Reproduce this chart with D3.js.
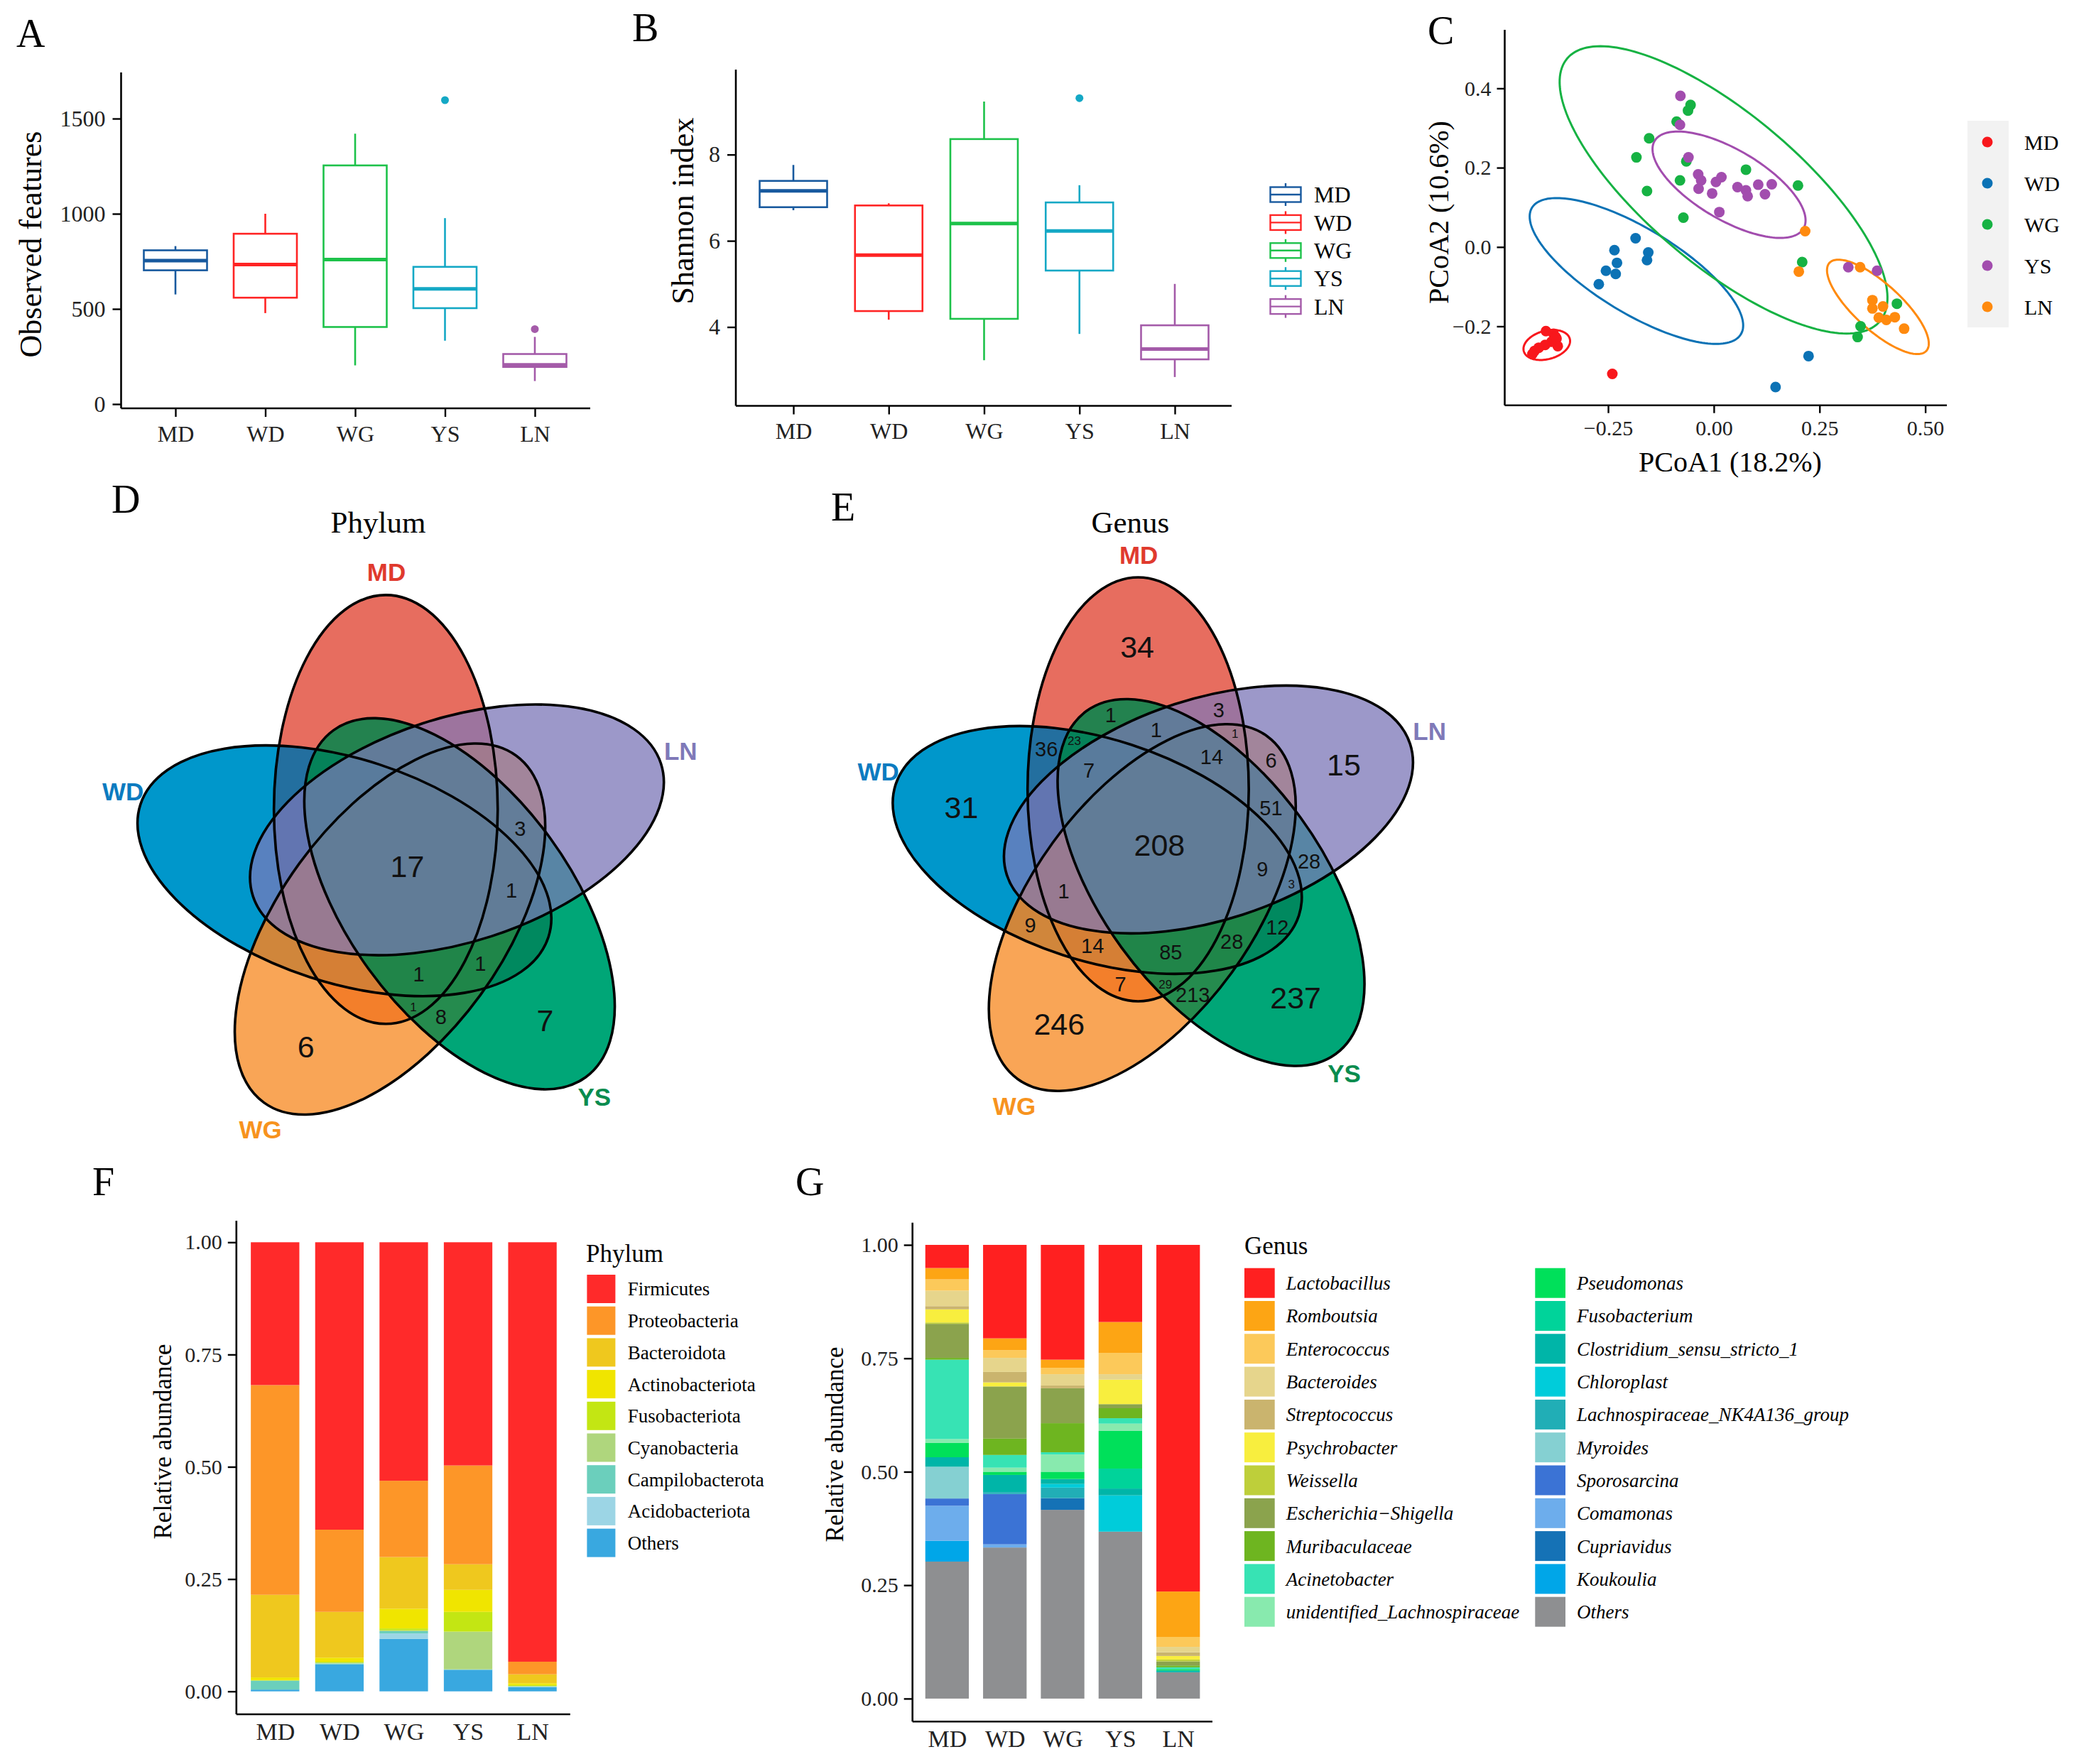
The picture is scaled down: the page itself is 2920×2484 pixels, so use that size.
<!DOCTYPE html>
<html>
<head>
<meta charset="utf-8">
<title>Gut microbiota diversity</title>
<style>
  body { margin: 0; padding: 0; background: #fff; }
  svg { display: block; }
</style>
<script src="https://cdn.jsdelivr.net/npm/d3@7/dist/d3.min.js"></script>
</head>
<body>
<svg></svg>
<script>
const groups = ['MD', 'WD', 'WG', 'YS', 'LN'];

// A - observed features: [lower whisker, Q1, median, Q3, upper whisker]
const featureStats = [
  [576, 703, 754, 808, 830],
  [478, 559, 733, 895, 1000],
  [203, 405, 759, 1254, 1421],
  [333, 504, 605, 721, 977],
  [121, 195, 206, 263, 353]
];
const featureOutliers = [[], [], [], [1597], [394]];
const featureTicks = [0, 500, 1000, 1500];

// B - Shannon index
const shannonStats = [
  [6.71, 6.78, 7.16, 7.39, 7.76],
  [4.17, 4.37, 5.67, 6.82, 6.87],
  [3.23, 4.19, 6.40, 8.36, 9.23],
  [3.84, 5.31, 6.23, 6.89, 7.29],
  [2.84, 3.25, 3.49, 4.04, 5.00]
];
const shannonOutliers = [[], [], [], [9.31], []];
const shannonTicks = [4, 6, 8];
const boxColors = ['#17599E', '#FF2424', '#1DC24A', '#14A8C5', '#A45BA9'];

// C - PCoA scores (PCoA1, PCoA2)
const pcoaMD = [[-0.397, -0.212], [-0.379, -0.219], [-0.372, -0.231], [-0.369, -0.250], [-0.384, -0.239],
  [-0.399, -0.247], [-0.414, -0.254], [-0.424, -0.262], [-0.429, -0.270], [-0.374, -0.227], [-0.240, -0.320]];
const pcoaWD = [[-0.185, 0.022], [-0.235, -0.008], [-0.155, -0.014], [-0.158, -0.033], [-0.229, -0.040],
  [-0.255, -0.060], [-0.232, -0.068], [-0.272, -0.094], [0.224, -0.275], [0.146, -0.353]];
const pcoaWG = [[-0.055, 0.358], [-0.061, 0.344], [-0.088, 0.316], [-0.153, 0.274], [-0.183, 0.226],
  [-0.065, 0.216], [-0.080, 0.168], [-0.158, 0.141], [-0.072, 0.074], [0.076, 0.195], [0.199, 0.155],
  [0.209, -0.038], [0.433, -0.143], [0.347, -0.200], [0.340, -0.227]];
const pcoaYS = [[-0.079, 0.381], [-0.080, 0.308], [-0.060, 0.226], [-0.037, 0.183], [-0.030, 0.168],
  [0.018, 0.176], [0.005, 0.164], [-0.036, 0.147], [-0.004, 0.135], [0.056, 0.151], [0.076, 0.143],
  [0.080, 0.128], [0.105, 0.157], [0.121, 0.133], [0.137, 0.158], [0.013, 0.088], [0.318, -0.051], [0.386, -0.060]];
const pcoaLN = [[0.216, 0.040], [0.201, -0.062], [0.346, -0.051], [0.375, -0.134], [0.375, -0.155],
  [0.400, -0.150], [0.390, -0.178], [0.408, -0.184], [0.428, -0.177], [0.450, -0.206]];
// confidence ellipses: centre, end of major axis, end of minor axis (data units)
const pcoaEllipses = [
  [-0.395, -0.247, -0.3406, -0.2314, -0.4037, -0.2124],
  [-0.183, -0.0605, 0.064, -0.220, -0.131, 0.031],
  [0.023, 0.144, 0.393, -0.187, 0.1385, 0.291],
  [0.036, 0.157, 0.212, 0.0465, 0.078, 0.233],
  [0.388, -0.151, 0.5025, -0.262, 0.425, -0.108]
];
const pcoaXTicks = [-0.25, 0, 0.25, 0.5];
const pcoaYTicks = [-0.2, 0, 0.2, 0.4];
const pcoaColors = ['#F8171C', '#0B72B5', '#16B243', '#A24DAE', '#FF8A0E'];

// D, E - Venn region counts
const vennOrder = ['MD', 'LN', 'YS', 'WG', 'WD']; // clockwise from the top
const phylumVenn = [
  { sets: ['MD', 'LN', 'YS', 'WG', 'WD'], n: 17 },
  { sets: ['WG'], n: 6 },
  { sets: ['YS'], n: 7 },
  { sets: ['LN', 'YS', 'WG'], n: 3 },
  { sets: ['LN', 'YS', 'WG', 'WD'], n: 1 },
  { sets: ['MD', 'YS', 'WG', 'WD'], n: 1 },
  { sets: ['YS', 'WG', 'WD'], n: 1 },
  { sets: ['MD', 'YS', 'WG'], n: 1 },
  { sets: ['YS', 'WG'], n: 8 }
];
const genusVenn = [
  { sets: ['MD', 'LN', 'YS', 'WG', 'WD'], n: 208 },
  { sets: ['MD'], n: 34 }, { sets: ['LN'], n: 15 }, { sets: ['YS'], n: 237 },
  { sets: ['WG'], n: 246 }, { sets: ['WD'], n: 31 },
  { sets: ['MD', 'LN'], n: 3 }, { sets: ['LN', 'YS'], n: 28 }, { sets: ['YS', 'WG'], n: 213 },
  { sets: ['WG', 'WD'], n: 9 }, { sets: ['WD', 'MD'], n: 36 },
  { sets: ['MD', 'YS'], n: 1 }, { sets: ['LN', 'WG'], n: 6 }, { sets: ['YS', 'WD'], n: 12 },
  { sets: ['WG', 'MD'], n: 7 },
  { sets: ['MD', 'LN', 'YS'], n: 1 }, { sets: ['LN', 'YS', 'WG'], n: 51 },
  { sets: ['YS', 'WG', 'WD'], n: 28 }, { sets: ['WG', 'WD', 'MD'], n: 14 },
  { sets: ['MD', 'LN', 'WG'], n: 1 }, { sets: ['LN', 'YS', 'WD'], n: 3 },
  { sets: ['YS', 'WG', 'MD'], n: 29 }, { sets: ['WD', 'MD', 'YS'], n: 23 },
  { sets: ['MD', 'LN', 'YS', 'WG'], n: 14 }, { sets: ['LN', 'YS', 'WG', 'WD'], n: 9 },
  { sets: ['YS', 'WG', 'WD', 'MD'], n: 85 }, { sets: ['WG', 'WD', 'MD', 'LN'], n: 1 },
  { sets: ['WD', 'MD', 'LN', 'YS'], n: 7 }
];
// fill where a set is alone, and the tint it lays over sets drawn before it
const vennFill = { MD: '#E76D5F', LN: '#9C98C9', YS: '#00A677', WG: '#F9A556', WD: '#0097CB' };
const vennOverlap = { LN: '#7D78B9', YS: '#00864C', WG: '#F48322', WD: '#0070AA' };
const vennAlpha = { LN: 0.7, YS: 0.85, WG: 0.85, WD: 0.85 };
const vennText = { MD: '#E03A2E', LN: '#7F79B8', YS: '#0A8C4F', WG: '#F7931E', WD: '#0C7BC0' };

// F - phylum relative abundance
const phyla = ['Firmicutes', 'Proteobacteria', 'Bacteroidota', 'Actinobacteriota', 'Fusobacteriota',
  'Cyanobacteria', 'Campilobacterota', 'Acidobacteriota', 'Others'];
const phylumMD = [0.318, 0.467, 0.184, 0.006, 0.001, 0.000, 0.020, 0.000, 0.004];
const phylumWD = [0.640, 0.183, 0.102, 0.009, 0.002, 0.002, 0.002, 0.000, 0.060];
const phylumWG = [0.531, 0.170, 0.115, 0.044, 0.004, 0.002, 0.005, 0.012, 0.117];
const phylumYS = [0.497, 0.220, 0.057, 0.049, 0.044, 0.084, 0.001, 0.000, 0.048];
const phylumLN = [0.934, 0.028, 0.020, 0.004, 0.002, 0.001, 0.001, 0.001, 0.009];
const phylumColors = ['#FF2A2A', '#FD9628', '#EFC81E', '#F0E500', '#C3E613', '#AFD67D', '#6BCFBC', '#9CD5E5', '#39A8E0'];

// G - genus relative abundance
const genera = ['Lactobacillus', 'Romboutsia', 'Enterococcus', 'Bacteroides', 'Streptococcus', 'Psychrobacter',
  'Weissella', 'Escherichia\u2212Shigella', 'Muribaculaceae', 'Acinetobacter', 'unidentified_Lachnospiraceae',
  'Pseudomonas', 'Fusobacterium', 'Clostridium_sensu_stricto_1', 'Chloroplast', 'Lachnospiraceae_NK4A136_group',
  'Myroides', 'Sporosarcina', 'Comamonas', 'Cupriavidus', 'Koukoulia', 'Others'];
const genusMD = [0.051, 0.025, 0.025, 0.034, 0.007, 0.029, 0.003, 0.075, 0.004, 0.175, 0.008, 0.032, 0.000, 0.021, 0.000, 0.000, 0.070, 0.016, 0.077, 0.000, 0.046, 0.302];
const genusWD = [0.206, 0.026, 0.017, 0.031, 0.023, 0.009, 0.000, 0.115, 0.036, 0.028, 0.009, 0.007, 0.000, 0.038, 0.000, 0.004, 0.000, 0.111, 0.007, 0.000, 0.000, 0.333];
const genusWG = [0.253, 0.018, 0.014, 0.025, 0.006, 0.000, 0.000, 0.077, 0.064, 0.005, 0.038, 0.016, 0.000, 0.011, 0.008, 0.023, 0.000, 0.000, 0.000, 0.026, 0.000, 0.416];
const genusYS = [0.170, 0.068, 0.047, 0.012, 0.000, 0.054, 0.000, 0.009, 0.022, 0.012, 0.016, 0.083, 0.044, 0.015, 0.080, 0.000, 0.000, 0.000, 0.000, 0.000, 0.000, 0.368];
const genusLN = [0.764, 0.100, 0.022, 0.012, 0.008, 0.008, 0.004, 0.009, 0.004, 0.004, 0.000, 0.003, 0.000, 0.004, 0.000, 0.000, 0.000, 0.000, 0.000, 0.000, 0.000, 0.058];
const genusColors = ['#FF2020', '#FDA514', '#FCC95A', '#E6D58C', '#CAB46E', '#F8EE3E', '#BECF3A', '#8BA34D',
  '#6EB520', '#37E3B4', '#88EAAE', '#00E05A', '#00D39A', '#00B5A8', '#00CCDA', '#21AEB6', '#85D0D2',
  '#3B73D5', '#6DADEC', '#1572B6', '#00A6E8', '#8E8F91'];
const abundanceTicks = [0, 0.25, 0.5, 0.75, 1];

// ---------------------------------------------------------------------------
const serif = '"Liberation Serif", "Times New Roman", serif';
const sans = '"Liberation Sans", Arial, sans-serif';
const W = 2920, H = 2484;
const svg = d3.select('svg').attr('width', W).attr('height', H);
svg.append('rect').attr('width', W).attr('height', H).attr('fill', '#fff');
const defs = svg.append('defs');

function panelLetter(x, y, t) {
  svg.append('text').attr('x', x).attr('y', y).attr('font-family', serif)
    .attr('font-size', 56).text(t);
}

function axisLines(g, x0, x1, yTop, yBottom) {
  g.append('line').attr('x1', x0).attr('x2', x0).attr('y1', yTop).attr('y2', yBottom)
    .attr('stroke', '#000').attr('stroke-width', 2.6);
  g.append('line').attr('x1', x0).attr('x2', x1).attr('y1', yBottom).attr('y2', yBottom)
    .attr('stroke', '#000').attr('stroke-width', 2.6);
}

function styleAxis(sel, size) {
  sel.attr('font-family', serif).attr('font-size', size);
  sel.select('.domain').remove();
  sel.selectAll('.tick line').attr('stroke', '#000').attr('stroke-width', 2.4);
  sel.selectAll('.tick text').attr('fill', '#222');
}

function yTitle(x, y, t, size) {
  svg.append('text').attr('transform', `translate(${x},${y}) rotate(-90)`)
    .attr('text-anchor', 'middle').attr('dy', '0.35em')
    .attr('font-family', serif).attr('font-size', size).text(t);
}

// boxplot panel (A, B)
function boxPanel(o) {
  const g = svg.append('g');
  const x = d3.scalePoint().domain(groups).range([o.first, o.last]);
  const y = d3.scaleLinear().domain(o.domain).range(o.range);

  axisLines(g, o.axisX, o.axisRight, o.axisTop, o.axisY);
  g.append('g').attr('transform', `translate(${o.axisX},0)`)
    .call(d3.axisLeft(y).tickValues(o.ticks).tickFormat(d3.format('d')).tickSize(12).tickPadding(10))
    .call(s => styleAxis(s, 32));
  g.append('g').attr('transform', `translate(0,${o.axisY})`)
    .call(d3.axisBottom(x).tickSize(12).tickPadding(12))
    .call(s => styleAxis(s, 32));

  const w = o.boxWidth;
  const box = g.selectAll('.box').data(o.stats).join('g');
  box.append('line')
    .attr('x1', (d, i) => x(groups[i])).attr('x2', (d, i) => x(groups[i]))
    .attr('y1', d => y(d[4])).attr('y2', d => y(d[0]))
    .attr('stroke', (d, i) => boxColors[i]).attr('stroke-width', 2.6);
  box.append('rect')
    .attr('x', (d, i) => x(groups[i]) - w / 2).attr('width', w)
    .attr('y', d => y(d[3])).attr('height', d => y(d[1]) - y(d[3]))
    .attr('fill', '#fff').attr('stroke', (d, i) => boxColors[i]).attr('stroke-width', 2.6);
  box.append('line')
    .attr('x1', (d, i) => x(groups[i]) - w / 2).attr('x2', (d, i) => x(groups[i]) + w / 2)
    .attr('y1', d => y(d[2])).attr('y2', d => y(d[2]))
    .attr('stroke', (d, i) => boxColors[i]).attr('stroke-width', 5);
  o.outliers.forEach((pts, i) => {
    g.selectAll(null).data(pts).join('circle')
      .attr('cx', x(groups[i])).attr('cy', d => y(d)).attr('r', 5.5)
      .attr('fill', boxColors[i]);
  });
  yTitle(o.titleX, o.titleY, o.title, 44);
  return g;
}

// A
panelLetter(23, 66, 'A');
boxPanel({
  stats: featureStats, outliers: featureOutliers, ticks: featureTicks,
  domain: [0, 1500], range: [569, 167], first: 247, last: 753, boxWidth: 89,
  axisX: 170.5, axisRight: 831, axisTop: 102, axisY: 575,
  title: 'Observed features', titleX: 43, titleY: 344
});

// B
panelLetter(890, 58, 'B');
boxPanel({
  stats: shannonStats, outliers: shannonOutliers, ticks: shannonTicks,
  domain: [4, 8], range: [460.5, 217.7], first: 1117, last: 1654, boxWidth: 95,
  axisX: 1036, axisRight: 1734, axisTop: 98, axisY: 571.5,
  title: 'Shannon index', titleX: 961, titleY: 297
});
// B legend
const bLeg = svg.append('g');
groups.forEach((grp, i) => {
  const cy = 274 + i * 39.4;
  const k = bLeg.append('g');
  k.append('line').attr('x1', 1810).attr('x2', 1810).attr('y1', cy - 16).attr('y2', cy + 16)
    .attr('stroke', boxColors[i]).attr('stroke-width', 2.4);
  k.append('rect').attr('x', 1788.5).attr('y', cy - 10.5).attr('width', 43).attr('height', 21)
    .attr('fill', '#fff').attr('stroke', boxColors[i]).attr('stroke-width', 2.4);
  k.append('line').attr('x1', 1788.5).attr('x2', 1831.5).attr('y1', cy).attr('y2', cy)
    .attr('stroke', boxColors[i]).attr('stroke-width', 2.4);
  bLeg.append('text').attr('x', 1850).attr('y', cy).attr('dy', '0.35em')
    .attr('font-family', serif).attr('font-size', 32).text(grp);
});

// C - PCoA
panelLetter(2010, 62, 'C');
(function () {
  const g = svg.append('g');
  const x = d3.scaleLinear().domain([0, 0.5]).range([2412.9, 2710.6]);
  const y = d3.scaleLinear().domain([0, 0.4]).range([347.8, 124.4]);
  axisLines(g, 2118.5, 2741, 42, 570.7);
  g.append('g').attr('transform', 'translate(2118.5,0)')
    .call(d3.axisLeft(y).tickValues(pcoaYTicks).tickFormat(d3.format('.1f')).tickSize(11).tickPadding(8))
    .call(s => styleAxis(s, 30));
  g.append('g').attr('transform', 'translate(0,570.7)')
    .call(d3.axisBottom(x).tickValues(pcoaXTicks).tickFormat(d3.format('.2f')).tickSize(11).tickPadding(10))
    .call(s => styleAxis(s, 30));

  const line = d3.line().curve(d3.curveLinearClosed);
  pcoaEllipses.forEach((e, i) => {
    const c = [x(e[0]), y(e[1])];
    const u = [x(e[2]) - c[0], y(e[3]) - c[1]];
    const v = [x(e[4]) - c[0], y(e[5]) - c[1]];
    const pts = d3.range(0, 2 * Math.PI, Math.PI / 90).map(t =>
      [c[0] + Math.cos(t) * u[0] + Math.sin(t) * v[0], c[1] + Math.cos(t) * u[1] + Math.sin(t) * v[1]]);
    g.append('path').attr('d', line(pts)).attr('fill', 'none')
      .attr('stroke', pcoaColors[i]).attr('stroke-width', 3);
  });
  [pcoaMD, pcoaWD, pcoaWG, pcoaYS, pcoaLN].forEach((pts, i) => {
    g.selectAll(null).data(pts).join('circle')
      .attr('cx', d => x(d[0])).attr('cy', d => y(d[1])).attr('r', 7.5)
      .attr('fill', pcoaColors[i]);
  });
  yTitle(2025, 299, 'PCoA2 (10.6%)', 40);
  g.append('text').attr('x', 2436).attr('y', 664).attr('text-anchor', 'middle')
    .attr('font-family', serif).attr('font-size', 40).text('PCoA1 (18.2%)');

  // legend
  g.append('rect').attr('x', 2770).attr('y', 170).attr('width', 58).attr('height', 291).attr('fill', '#F2F2F2');
  groups.forEach((grp, i) => {
    const cy = 200 + i * 58;
    g.append('circle').attr('cx', 2798).attr('cy', cy).attr('r', 7.5).attr('fill', pcoaColors[i]);
    g.append('text').attr('x', 2850).attr('y', cy).attr('dy', '0.35em')
      .attr('font-family', serif).attr('font-size', 30).text(grp);
  });
})();

// D, E - five-set Venn diagrams
const rad = Math.PI / 180;
function rot(p, deg) {
  const a = deg * rad;
  return [p[0] * Math.cos(a) - p[1] * Math.sin(a), p[0] * Math.sin(a) + p[1] * Math.cos(a)];
}
// label placement for each kind of region, for the member that starts at set j = 0
const regionKinds = [
  { offs: [0], ang: -6.3, r: 0.439, size: 43 },
  { offs: [0, 1], ang: 23.2, r: 0.326, size: 29 },
  { offs: [0, 2], ang: -20.1, r: 0.308, size: 29 },
  { offs: [0, 1, 2], ang: -1.6, r: 0.257, size: 29 },
  { offs: [0, 1, 3], ang: 33.5, r: 0.297, size: 17 },
  { offs: [0, 1, 2, 3], ang: 29.8, r: 0.228, size: 29 }
];
const setLabelPos = { MD: [-0.045, -0.636], LN: [0.586, -0.253], YS: [0.401, 0.490], WG: [-0.315, 0.560], WD: [-0.610, -0.165] };
const drawOrder = ['MD', 'WD', 'WG', 'YS', 'LN'];

function regionPlace(sets) {
  const idx = sets.map(s => vennOrder.indexOf(s)).sort().join();
  if (sets.length === 5) return { ang: 0, r: 0, size: 43 };
  for (const kind of regionKinds) {
    if (kind.offs.length !== sets.length) continue;
    for (let j = 0; j < 5; j++) {
      const cand = kind.offs.map(o => (j + o) % 5).sort().join();
      if (cand === idx) return { ang: kind.ang + 72 * j, r: kind.r, size: kind.size };
    }
  }
  return null;
}

function drawVenn(id, cx, cy, s, counts, title, titleY) {
  const g = svg.append('g');
  const a = 0.24 * s, b = 0.46 * s;
  const base = [-0.135 * s * Math.sin(20 * rad), -0.135 * s * Math.cos(20 * rad)];
  const ell = {};
  vennOrder.forEach((name, k) => {
    const off = rot(base, 72 * k);
    ell[name] = `translate(${cx + off[0]},${cy + off[1]}) rotate(${72 * k})`;
  });
  const shape = (sel, name) => sel.append('ellipse').attr('rx', a).attr('ry', b).attr('transform', ell[name]);

  // each set: plain fill where nothing was drawn yet, translucent tint over earlier sets
  drawOrder.forEach((name, i) => {
    const earlier = drawOrder.slice(0, i);
    if (!earlier.length) {
      shape(g, name).attr('fill', vennFill[name]);
      return;
    }
    const m = defs.append('mask').attr('id', `${id}-m-${name}`).attr('maskUnits', 'userSpaceOnUse')
      .attr('x', 0).attr('y', 0).attr('width', W).attr('height', H);
    m.append('rect').attr('width', W).attr('height', H).attr('fill', '#fff');
    earlier.forEach(o => shape(m, o).attr('fill', '#000'));
    const cp = defs.append('clipPath').attr('id', `${id}-c-${name}`);
    earlier.forEach(o => shape(cp, o));
    shape(g.append('g').attr('mask', `url(#${id}-m-${name})`), name).attr('fill', vennFill[name]);
    shape(g.append('g').attr('clip-path', `url(#${id}-c-${name})`), name)
      .attr('fill', vennOverlap[name]).attr('fill-opacity', vennAlpha[name]);
  });
  drawOrder.forEach(name => shape(g, name).attr('fill', 'none').attr('stroke', '#000').attr('stroke-width', 3.6));

  counts.forEach(d => {
    const p = regionPlace(d.sets);
    g.append('text')
      .attr('x', cx + p.r * s * Math.sin(p.ang * rad))
      .attr('y', cy - p.r * s * Math.cos(p.ang * rad) - (d.sets.length === 5 ? 4 : 0))
      .attr('text-anchor', 'middle').attr('dy', '0.36em')
      .attr('font-family', sans).attr('font-size', p.size).attr('fill', '#111').text(d.n);
  });
  vennOrder.forEach(name => {
    g.append('text').attr('x', cx + setLabelPos[name][0] * s).attr('y', cy + setLabelPos[name][1] * s)
      .attr('text-anchor', 'middle').attr('dy', '0.36em')
      .attr('font-family', sans).attr('font-weight', 'bold').attr('font-size', 35)
      .attr('fill', vennText[name]).text(name);
  });
  g.append('text').attr('x', cx - 41).attr('y', titleY).attr('text-anchor', 'middle')
    .attr('font-family', serif).attr('font-size', 43).text(title);
}

panelLetter(157, 722, 'D');
drawVenn('vd', 573.5, 1223.1, 656.5, phylumVenn, 'Phylum', 750);
panelLetter(1170, 733, 'E');
drawVenn('ve', 1632.4, 1193.8, 648.9, genusVenn, 'Genus', 750);

// F, G - stacked bars
function stackPanel(o) {
  const g = svg.append('g');
  const x = d3.scalePoint().domain(groups).range([o.first, o.last]);
  const y = d3.scaleLinear().domain([0, 1]).range(o.range);
  const rows = groups.map((grp, i) => {
    const r = { group: grp };
    o.keys.forEach((k, j) => { r[k] = o.values[i][j]; });
    return r;
  });
  // first taxon on top, "Others" at the bottom
  const series = d3.stack().keys(o.keys.slice().reverse())(rows);
  const bw = o.barWidth;
  series.forEach(sr => {
    const color = o.colors[o.keys.indexOf(sr.key)];
    g.selectAll(null).data(sr).join('rect')
      .attr('x', d => x(d.data.group) - bw / 2).attr('width', bw)
      .attr('y', d => y(d[1])).attr('height', d => Math.max(0, y(d[0]) - y(d[1])))
      .attr('fill', color);
  });
  axisLines(g, o.axisX, o.axisRight, o.axisTop, o.axisY);
  g.append('g').attr('transform', `translate(${o.axisX},0)`)
    .call(d3.axisLeft(y).tickValues(abundanceTicks).tickFormat(d3.format('.2f')).tickSize(12).tickPadding(8))
    .call(s => styleAxis(s, 30));
  g.append('g').attr('transform', `translate(0,${o.axisY})`)
    .call(d3.axisBottom(x).tickSize(0).tickPadding(12))
    .call(s => styleAxis(s, 34));
  yTitle(o.titleX, o.titleY, 'Relative abundance', 35);
  return g;
}

panelLetter(130, 1683, 'F');
stackPanel({
  keys: phyla, colors: phylumColors,
  values: [phylumMD, phylumWD, phylumWG, phylumYS, phylumLN],
  first: 387.3, last: 749.6, barWidth: 68.3, range: [2381.7, 1749.3],
  axisX: 332.8, axisRight: 802.8, axisTop: 1719, axisY: 2414, titleX: 229, titleY: 2030
});
(function () {
  const g = svg.append('g');
  g.append('text').attr('x', 825).attr('y', 1777).attr('font-family', serif).attr('font-size', 35).text('Phylum');
  phyla.forEach((p, i) => {
    const y0 = 1795 + i * 44.7;
    g.append('rect').attr('x', 826.4).attr('y', y0).attr('width', 40).attr('height', 40).attr('fill', phylumColors[i]);
    g.append('text').attr('x', 883.8).attr('y', y0 + 20).attr('dy', '0.35em')
      .attr('font-family', serif).attr('font-size', 27).text(p);
  });
})();

panelLetter(1120, 1683, 'G');
stackPanel({
  keys: genera, colors: genusColors,
  values: [genusMD, genusWD, genusWG, genusYS, genusLN],
  first: 1333.4, last: 1658.7, barWidth: 61.3, range: [2391.9, 1753],
  axisX: 1284.7, axisRight: 1707, axisTop: 1721.8, axisY: 2424.2, titleX: 1175, titleY: 2034
});
(function () {
  const g = svg.append('g');
  g.append('text').attr('x', 1752).attr('y', 1766).attr('font-family', serif).attr('font-size', 35).text('Genus');
  genera.forEach((name, i) => {
    const col = Math.floor(i / 11), row = i % 11;
    const x0 = col === 0 ? 1752 : 2161.3;
    const y0 = 1785.7 + row * 46.3;
    g.append('rect').attr('x', x0).attr('y', y0).attr('width', 42.7).attr('height', 42).attr('fill', genusColors[i]);
    g.append('text').attr('x', x0 + 58.7).attr('y', y0 + 21).attr('dy', '0.35em')
      .attr('font-family', serif).attr('font-style', 'italic')
      .attr('font-size', 27).text(name);
  });
})();
</script>
</body>
</html>
